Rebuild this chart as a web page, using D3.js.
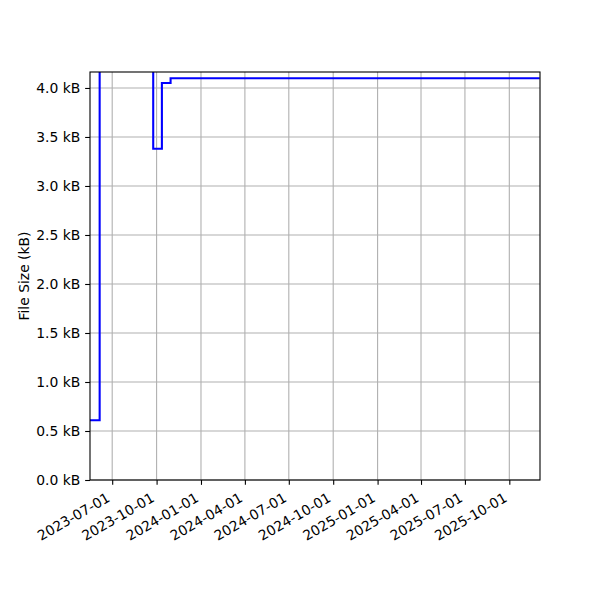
<!DOCTYPE html>
<meta charset="utf-8">
<head>
  <style>
    body { margin: 0; background: #fff; }
    svg text { font-family: "DejaVu Sans", sans-serif; font-size: 13.9px; fill: #000; }
  </style>
</head>
<body>
  <div class="svg_area"></div>

  <script src="https://d3js.org/d3.v7.min.js"></script>
  <script>
    // step data (value holds until the next date)
    var dates = ["2023-05-16", "2023-06-05", "2023-09-24", "2023-10-12", "2023-10-30", "2025-12-03"];
    var sizes = [0.61, 4.6, 3.38, 4.05, 4.10, 4.10];

    var xTickLabels = ["2023-07-01", "2023-10-01", "2024-01-01", "2024-04-01", "2024-07-01",
      "2024-10-01", "2025-01-01", "2025-04-01", "2025-07-01", "2025-10-01"];
    var yTicks = [0, 0.5, 1.0, 1.5, 2.0, 2.5, 3.0, 3.5, 4.0];

    var width = 600, height = 600;
    // plot area edges (note: "top" is reserved on window, so use pl/pr/pt/pb)
    var pl = 90, pr = 540, pt = 72, pb = 480;

    var parse = d3.utcParse("%Y-%m-%d");
    var points = dates.map(function (d, i) { return { date: parse(d), value: sizes[i] }; });

    var x = d3.scaleUtc()
      .domain([parse("2023-05-16"), new Date(Date.UTC(2025, 11, 3, 14))])
      .range([pl, pr]);
    var y = d3.scaleLinear()
      .domain([0, 4.163])
      .range([pb, pt]);

    var svg = d3.select(".svg_area").append("svg")
      .attr("width", width)
      .attr("height", height);

    svg.append("defs").append("clipPath")
      .attr("id", "plotclip")
      .append("rect")
      .attr("x", pl).attr("y", pt)
      .attr("width", pr - pl).attr("height", pb - pt);

    // grid
    var grid = svg.append("g");
    grid.selectAll(".gx")
      .data(xTickLabels)
      .enter().append("line")
      .attr("x1", function (d) { return x(parse(d)); })
      .attr("x2", function (d) { return x(parse(d)); })
      .attr("y1", pt).attr("y2", pb)
      .attr("stroke", "#b0b0b0").attr("stroke-width", 1.1);
    grid.selectAll(".gy")
      .data(yTicks)
      .enter().append("line")
      .attr("x1", pl).attr("x2", pr)
      .attr("y1", function (d) { return y(d); })
      .attr("y2", function (d) { return y(d); })
      .attr("stroke", "#b0b0b0").attr("stroke-width", 1.1);

    // step line
    var line = d3.line()
      .curve(d3.curveStepAfter)
      .x(function (d) { return x(d.date); })
      .y(function (d) { return y(d.value); });

    svg.append("path")
      .datum(points)
      .attr("clip-path", "url(#plotclip)")
      .attr("fill", "none")
      .attr("stroke", "#0000ff")
      .attr("stroke-width", 2.08)
      .attr("d", line);

    // axes
    var xAxis = d3.axisBottom(x)
      .tickValues(xTickLabels.map(parse))
      .tickSize(4.86)
      .tickPadding(4.86)
      .tickFormat(d3.utcFormat("%Y-%m-%d"));
    var gx = svg.append("g")
      .attr("transform", "translate(0," + pb + ")")
      .call(xAxis);
    gx.select(".domain").remove();
    gx.selectAll(".tick line").attr("stroke", "#000").attr("stroke-width", 1.1);
    gx.selectAll(".tick text")
      .attr("y", 0).attr("dy", 0)
      .attr("text-anchor", "end")
      .attr("transform", "translate(-1.7,20.7) rotate(-30)")
      .style("font-size", "13.9px")
      .style("font-family", "DejaVu Sans");

    var yAxis = d3.axisLeft(y)
      .tickValues(yTicks)
      .tickSize(4.86)
      .tickPadding(4.86)
      .tickFormat(function (d) { return d3.format(".1f")(d) + " kB"; });
    var gy = svg.append("g")
      .attr("transform", "translate(" + pl + ",0)")
      .call(yAxis);
    gy.select(".domain").remove();
    gy.selectAll(".tick line").attr("stroke", "#000").attr("stroke-width", 1.1);
    gy.selectAll(".tick text")
      .style("font-size", "13.9px")
      .style("font-family", "DejaVu Sans");

    // frame
    svg.append("rect")
      .attr("x", pl).attr("y", pt)
      .attr("width", pr - pl).attr("height", pb - pt)
      .attr("fill", "none")
      .attr("stroke", "#000")
      .attr("stroke-width", 1.1);

    svg.append("text")
      .attr("transform", "translate(29," + ((pt + pb) / 2) + ") rotate(-90)")
      .attr("text-anchor", "middle")
      .text("File Size (kB)");
  </script>
</body>
